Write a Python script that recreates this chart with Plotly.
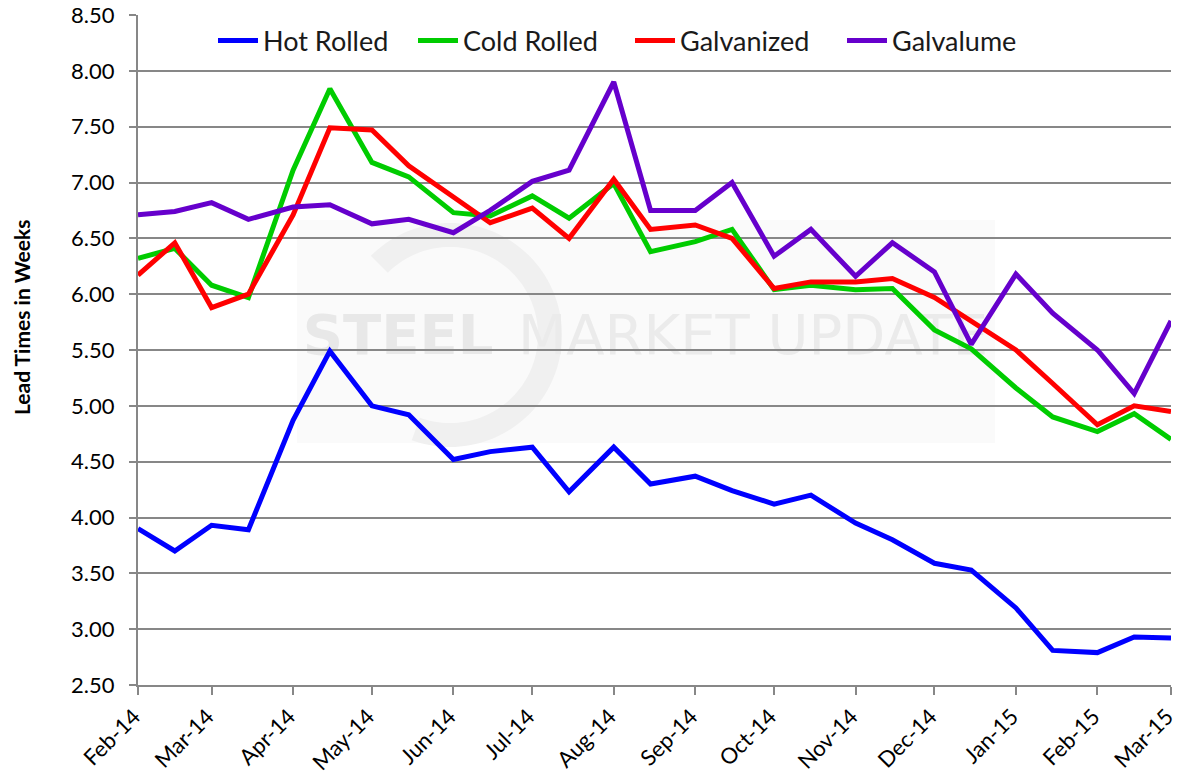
import math
import plotly.graph_objects as go

# Semi-monthly survey dates
survey_dates = [
    "2014-02-01", "2014-02-15", "2014-03-01", "2014-03-15", "2014-04-01",
    "2014-04-15", "2014-05-01", "2014-05-15", "2014-06-01", "2014-06-15",
    "2014-07-01", "2014-07-15", "2014-08-01", "2014-08-15", "2014-09-01",
    "2014-09-15", "2014-10-01", "2014-10-15", "2014-11-01", "2014-11-15",
    "2014-12-01", "2014-12-15", "2015-01-01", "2015-01-15", "2015-02-01",
    "2015-02-15", "2015-03-01",
]

# Lead times in weeks by product
hot_rolled = [3.90, 3.70, 3.93, 3.89, 4.87, 5.49, 5.00, 4.92, 4.52, 4.59,
              4.63, 4.23, 4.63, 4.30, 4.37, 4.24, 4.12, 4.20, 3.95, 3.80,
              3.59, 3.53, 3.19, 2.81, 2.79, 2.93, 2.92]
cold_rolled = [6.32, 6.41, 6.08, 5.97, 7.11, 7.84, 7.18, 7.05, 6.73, 6.70,
               6.88, 6.68, 6.99, 6.38, 6.47, 6.58, 6.04, 6.08, 6.04, 6.05,
               5.68, 5.51, 5.16, 4.90, 4.77, 4.93, 4.70]
galvanized = [6.17, 6.46, 5.88, 6.00, 6.71, 7.49, 7.47, 7.15, 6.87, 6.64,
              6.77, 6.50, 7.03, 6.58, 6.62, 6.50, 6.05, 6.11, 6.11, 6.14,
              5.97, 5.76, 5.50, 5.20, 4.83, 5.00, 4.95]
galvalume = [6.71, 6.74, 6.82, 6.67, 6.78, 6.80, 6.63, 6.67, 6.55, 6.75,
             7.01, 7.11, 7.90, 6.75, 6.75, 7.00, 6.34, 6.58, 6.16, 6.46,
             6.20, 5.55, 6.18, 5.83, 5.50, 5.11, 5.76]

series_names = ["Hot Rolled", "Cold Rolled", "Galvanized", "Galvalume"]
series_values = [hot_rolled, cold_rolled, galvanized, galvalume]
series_colors = ["#0000FF", "#00CC00", "#FF0000", "#6600CC"]

W, H = 1177, 778
ML, MR, MT, MB = 138, 6, 15, 93
PW, PH = W - ML - MR, H - MT - MB

GRID = "#878787"
FONT = "Lato, 'Open Sans', sans-serif"


def px_x(x):
    return (x - ML) / PW


def px_y(y):
    return (H - MB - y) / PH


fig = go.Figure()
legend_ids = ["legend", "legend2", "legend3", "legend4"]
for name, vals, col, lid in zip(series_names, series_values, series_colors, legend_ids):
    fig.add_trace(go.Scatter(
        x=survey_dates, y=vals, name=name, mode="lines",
        line=dict(color=col, width=5), legend=lid,
    ))

# Faint logo watermark behind the grid
shapes = [
    dict(type="rect", xref="paper", yref="paper",
         x0=px_x(297), x1=px_x(995), y0=px_y(443), y1=px_y(220),
         fillcolor="#fafafa", line=dict(width=0), layer="below"),
]
cx, cy, r_out, r_in = 450, 335, 112, 88
angles = [math.radians(135 - i * 2.5) for i in range(99)]
outer = [(cx + r_out * math.cos(a), cy - r_out * math.sin(a)) for a in angles]
inner = [(cx + r_in * math.cos(a), cy - r_in * math.sin(a)) for a in reversed(angles)]
ring = outer + inner
path = "M " + " L ".join(f"{px_x(x):.5f},{px_y(y):.5f}" for x, y in ring) + " Z"
shapes.append(dict(type="path", xref="paper", yref="paper", path=path,
                   fillcolor="#f0f0f0", line=dict(width=0), layer="below"))
shapes.append(dict(type="rect", xref="paper", yref="paper",
                   x0=px_x(290), x1=px_x(506), y0=px_y(360), y1=px_y(300),
                   fillcolor="rgba(0,0,0,0)", line=dict(width=0), layer="below",
                   label=dict(text="STEEL", textposition="middle center",
                              font=dict(family="DejaVu Sans", size=56,
                                        color="#e8e8e8", weight="bold"))))
shapes.append(dict(type="rect", xref="paper", yref="paper",
                   x0=px_x(500), x1=px_x(1006), y0=px_y(360), y1=px_y(300),
                   fillcolor="rgba(0,0,0,0)", line=dict(width=0), layer="below",
                   label=dict(text="MARKET UPDATE", textposition="middle center",
                              font=dict(family="DejaVu Sans", size=56,
                                        color="#ebebeb"))))

# One single-entry legend per series so each key sits at its own spot
legend_left_px = [213, 413, 630, 842]
legend_style = dict(
    orientation="h", xanchor="left", y=px_y(41), yanchor="middle",
    bgcolor="rgba(0,0,0,0)", font=dict(family=FONT, size=27, color="#1a1a1a"),
    itemwidth=40,
)
legend_layouts = {
    lid: dict(legend_style, x=px_x(xl))
    for lid, xl in zip(legend_ids, legend_left_px)
}

fig.update_layout(
    width=W, height=H,
    margin=dict(l=ML, r=MR, t=MT, b=MB, pad=0),
    paper_bgcolor="white", plot_bgcolor="white",
    font=dict(family=FONT, color="#000000"),
    shapes=shapes,
    showlegend=True,
    annotations=[dict(
        text="<b>Lead Times in Weeks</b>", xref="paper", yref="paper",
        x=px_x(22), y=px_y(318), textangle=-90, showarrow=False,
        xanchor="center", yanchor="middle",
        font=dict(family=FONT, size=21, color="#000000"),
    )],
    **legend_layouts,
)

fig.update_xaxes(
    type="date", range=["2014-02-01", "2015-03-01"],
    tick0="2014-02-01", dtick="M1", tickformat="%b-%y", tickangle=-45,
    tickfont=dict(family=FONT, size=22), ticklabeloverflow="allow",
    ticklabelshift=-4,
    showgrid=False, showline=True, linecolor=GRID, linewidth=2,
    ticks="outside", ticklen=8, tickwidth=2, tickcolor=GRID,
    zeroline=False, automargin=False,
)
fig.update_yaxes(
    range=[2.5, 8.5], dtick=0.5, tick0=2.5, tickformat=".2f",
    tickfont=dict(family=FONT, size=22),
    showgrid=True, gridcolor=GRID, gridwidth=2,
    showline=True, linecolor=GRID, linewidth=2,
    ticks="outside", ticklen=7, tickwidth=2, tickcolor=GRID,
    ticklabelstandoff=10,
    zeroline=False, automargin=False,
)

fig.write_html("out.html")
